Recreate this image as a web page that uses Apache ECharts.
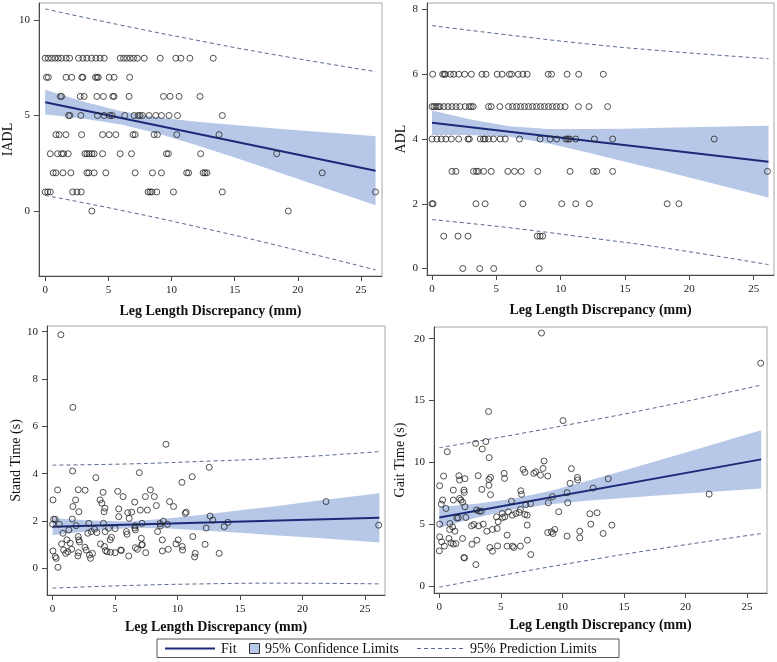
<!DOCTYPE html>
<html>
<head>
<meta charset="utf-8">
<script src="https://cdn.jsdelivr.net/npm/echarts@6/dist/echarts.min.js"></script>
<style>
html,body{margin:0;padding:0;background:#fff;}
#chart{width:777px;height:662px;}
</style>
</head>
<body>
<div id="chart"></div>
<script>
// ---------------- DATA ----------------
const xTitle = 'Leg Length Discrepancy (mm)';
const xTicks = [0, 5, 10, 15, 20, 25];

// IADL: x values grouped by score (index = score 0..8)
const iadlScores = [0, 1, 2, 3, 4, 5, 6, 7, 8];
const iadlXByScore = [
  [3.69, 19.24],
  [0, 0.2, 0.4, 2.17, 2.51, 2.85, 8.15, 8.3, 8.45, 8.83, 10.15, 14.02, 26.14],
  [0.63, 0.85, 1.4, 2.03, 3.3, 3.45, 3.87, 4.8, 7.12, 8.49, 9.2, 11.2, 11.35, 12.5, 12.65, 12.8, 21.93],
  [0.4, 0.98, 1.3, 1.45, 1.82, 3.15, 3.3, 3.48, 3.7, 3.87, 4.54, 5.93, 6.83, 9.6, 9.75, 12.3, 18.32],
  [0.85, 1.1, 1.64, 2.88, 4.54, 5.06, 5.59, 6.95, 7.12, 8.62, 8.88, 10.41, 13.76],
  [1.85, 1.95, 2.82, 4.14, 4.66, 5.1, 5.3, 6.3, 7.04, 7.35, 7.5, 7.7, 8.22, 8.75, 9.2, 9.8, 10.47, 14.02],
  [1.2, 1.3, 2.77, 3.08, 4.09, 4.61, 5.35, 5.45, 6.64, 9.36, 9.88, 10.6, 12.25],
  [0.1, 0.25, 1.65, 2.1, 2.9, 2.98, 3.98, 4.1, 4.2, 5.06, 5.45, 6.68],
  [0, 0.24, 0.5, 0.77, 1.03, 1.29, 1.66, 1.93, 2.64, 2.98, 3.3, 3.67, 4.01, 4.35, 4.67, 5.94, 6.2, 6.46, 6.73, 6.99, 7.3, 7.84, 9.1, 10.34, 10.74, 11.45, 13.3]
];
const iadlTicks = [0, 5, 10];

// ADL: x values grouped by score (index = score 0..6)
const adlScores = [0, 1, 2, 3, 4, 5, 6];
const adlXByScore = [
  [2.39, 3.71, 4.8, 8.33],
  [0.91, 2.02, 2.8, 8.18, 8.4, 8.6],
  [0, 0.08, 3.41, 4.13, 7.06, 10.08, 11.17, 12.23, 18.28, 19.19],
  [1.55, 1.86, 3.23, 3.45, 3.6, 4.01, 4.6, 5.89, 6.41, 6.93, 8.22, 10.73, 12.54, 12.8, 14.04, 26.07],
  [0, 0.38, 0.72, 1.08, 1.5, 2.07, 2.8, 2.9, 3.75, 4.0, 4.12, 4.39, 4.78, 5.3, 5.69, 6.8, 8.4, 9.18, 9.69, 10.4, 10.55, 10.7, 11.17, 12.62, 14.04, 21.93],
  [0, 0.15, 0.31, 0.47, 0.62, 0.93, 1.24, 1.55, 1.86, 2.17, 2.58, 2.89, 3.05, 3.2, 4.39, 4.6, 5.27, 5.94, 6.26, 6.57, 6.88, 7.19, 7.5, 7.81, 8.12, 8.43, 8.74, 9.05, 9.36, 9.67, 9.98, 10.34, 11.38, 12.2, 13.65],
  [0.05, 0.83, 0.95, 1.04, 1.43, 1.69, 2.08, 2.54, 3.06, 3.89, 4.2, 5.06, 5.45, 6.02, 6.18, 6.7, 7.06, 7.4, 9.03, 9.29, 10.5, 11.4, 13.31]
];
const adlTicks = [0, 2, 4, 6, 8];

// Stand time (s): [discrepancy, seconds]
const standPoints = [
  [0.66,9.87],[1.62,6.8],[9.07,5.24],[1.6,4.11],[3.46,3.83],[6.94,4.04],[11.17,3.87],[10.35,3.63],[0.4,3.31],[2.05,3.32],
  [2.6,3.3],[0.03,2.89],[1.84,2.89],[3.8,2.89],[4.04,3.21],[3.94,2.75],[5.21,3.25],[5.64,3.03],[6.57,2.8],[7.42,3.03],
  [7.82,3.31],[8.14,3.03],[8.3,2.65],[9.36,2.82],[9.68,2.61],[1.62,2.61],[2.1,2.39],[4.18,2.54],[4.12,2.39],[5.29,2.51],
  [5.29,2.18],[6.01,2.35],[6.33,2.37],[6.12,2.11],[7.02,2.46],[7.58,2.46],[10.61,2.32],[10.69,2.37],[0.08,2.07],[0.21,2.07],
  [1.57,2.08],[0,1.86],[0.53,1.86],[1.89,1.8],[2.9,1.9],[4.07,1.9],[7.15,1.9],[8.59,1.89],[8.86,1.99],[9.18,1.86],
  [8.62,1.79],[0.82,1.48],[1.3,1.62],[2.05,1.34],[2.82,1.48],[3.09,1.55],[3.35,1.65],[3.54,1.51],[4.2,1.55],[4.47,1.69],
  [5.0,1.68],[5.9,1.55],[5.96,1.44],[6.57,1.7],[6.62,1.62],[6.6,1.79],[8.4,1.55],[4.6,1.2],[4.71,1.31],[7.1,1.27],
  [8.78,1.2],[10.05,1.2],[11.22,1.34],[0.72,1.03],[1.14,1.2],[1.41,1.06],[2.1,1.2],[2.15,1.11],[2.58,0.89],[3.83,1.03],
  [4.15,0.92],[4.23,0.75],[4.36,0.7],[4.63,0.68],[5.0,0.66],[5.45,0.77],[5.5,0.75],[6.09,0.52],[6.62,0.87],[6.78,0.8],
  [7.13,0.99],[7.18,1.0],[7.45,0.66],[8.78,0.73],[9.26,0.8],[9.87,1.03],[10.37,0.92],[10.4,0.77],[11.41,0.63],[11.36,0.48],
  [0.03,0.73],[0.21,0.49],[0.29,0.42],[0.43,0.04],[0.88,0.77],[1.04,0.63],[1.22,0.7],[1.52,0.8],[2.07,0.66],[2.02,0.52],
  [2.69,0.77],[2.95,0.56],[3.03,0.42],[3.19,0.63],[12.53,4.27],[21.88,2.82],[12.6,2.21],[12.82,2.04],[14.02,1.94],[13.73,1.76],
  [12.29,1.7],[26.09,1.82],[12.2,1.01],[13.33,0.63]
];
const standTicks = [0, 2, 4, 6, 8, 10];

// Gait time (s): [discrepancy, seconds]
const gaitPoints = [
  [8.3,20.46],[4.0,14.11],[10.05,13.38],[0.65,10.86],[2.95,11.54],[3.78,11.68],[3.49,11.08],[4.05,10.38],[8.51,10.11],[0.35,8.89],
  [0.03,8.11],[1.59,8.92],[1.65,8.57],[2.08,8.68],[3.16,8.92],[4.03,8.62],[4.16,8.78],[4.03,8.14],[5.27,9.11],[5.3,8.7],
  [6.81,9.43],[6.95,9.19],[7.68,9.11],[7.84,9.24],[8.22,8.97],[8.43,9.51],[8.81,8.89],[10.73,9.49],[10.62,8.3],[11.22,8.78],
  [11.24,8.57],[0.27,6.95],[0.16,6.62],[0.54,6.27],[1.14,7.76],[1.14,6.95],[1.65,7.08],[1.76,6.95],[2.0,7.76],[2.03,7.57],
  [1.89,6.78],[2.08,6.41],[3.46,7.81],[4.16,7.38],[5.86,6.86],[6.62,7.7],[6.68,7.41],[7.03,6.59],[7.41,6.65],[8.86,6.73],
  [9.19,7.22],[10.38,7.54],[10.43,6.73],[9.7,6.0],[0.03,5.0],[0.86,5.05],[1.08,4.78],[1.27,4.43],[0.84,4.57],[1.41,5.51],
  [1.54,5.51],[2.16,5.54],[3.03,6.14],[3.24,6.05],[3.41,6.05],[2.62,4.86],[2.81,4.97],[3.19,4.86],[3.57,5.0],[3.86,4.43],
  [4.32,4.57],[4.7,4.65],[4.65,5.59],[4.78,5.19],[5.14,5.54],[5.11,5.86],[5.32,5.59],[5.62,6.0],[5.92,5.73],[6.22,5.86],
  [6.49,5.95],[6.59,6.19],[6.95,5.78],[7.14,5.73],[7.14,4.92],[5.51,4.11],[4.73,3.24],[4.11,3.11],[4.32,2.81],[5.51,3.22],
  [5.95,3.22],[6.05,3.11],[6.59,3.22],[7.16,3.7],[7.43,2.54],[8.81,4.32],[9.11,4.38],[9.24,4.24],[9.38,4.57],[10.38,4.03],
  [11.41,4.43],[11.41,3.89],[0.03,3.97],[0.19,3.57],[0.41,3.22],[0.0,2.84],[0.78,3.84],[0.95,3.49],[1.14,3.38],[1.35,3.43],
  [1.89,3.84],[2.0,2.3],[2.05,2.27],[2.65,3.38],[3.05,3.7],[2.97,1.73],[26.11,18.02],[13.72,8.67],[12.5,7.92],[21.92,7.43],
  [12.23,5.84],[12.82,5.92],[12.31,5.0],[14.02,4.92],[13.31,4.25]
];
const gaitTicks = [0, 5, 10, 15, 20];

// Regression fit lines (read at the ends of the data range)
const fitX = [0, 26.15];
const iadlFitY = [5.70, 2.11];
const adlFitY = [4.50, 3.30];
const standFitY = [1.76, 2.13];
const gaitFitY = [5.54, 10.24];

// 95% confidence band edges read along the x range
const bandX = [0, 3, 6, 9, 12, 15, 18, 21, 24, 26.15];
const iadlCiUpper = [6.35, 5.74, 5.23, 4.90, 4.68, 4.51, 4.33, 4.18, 4.03, 3.92];
const iadlCiLower = [5.05, 4.84, 4.53, 4.04, 3.44, 2.80, 2.13, 1.46, 0.79, 0.30];
const adlCiUpper = [4.88, 4.60, 4.39, 4.31, 4.31, 4.32, 4.35, 4.37, 4.39, 4.41];
const adlCiLower = [4.12, 4.12, 4.07, 3.87, 3.59, 3.30, 3.01, 2.71, 2.41, 2.19];
const standCiUpper = [2.11, 2.02, 1.98, 2.09, 2.26, 2.45, 2.63, 2.84, 3.03, 3.17];
const standCiLower = [1.41, 1.58, 1.70, 1.69, 1.60, 1.50, 1.39, 1.29, 1.17, 1.09];
const gaitCiUpper = [6.38, 6.65, 7.05, 7.69, 8.49, 9.34, 10.21, 11.08, 11.96, 12.60];
const gaitCiLower = [4.70, 5.51, 6.19, 6.61, 6.89, 7.12, 7.33, 7.54, 7.74, 7.88];

// 95% prediction limits
const piX = [0, 6, 12, 18, 26.15];
const iadlPiUpper = [10.58, 9.73, 8.94, 8.20, 7.30];
const iadlPiLower = [0.82, 0.04, -0.82, -1.74, -3.08];
const adlPiUpper = [7.50, 7.21, 6.94, 6.72, 6.48];
const adlPiLower = [1.51, 1.26, 0.96, 0.64, 0.12];
const standPiUpper = [4.36, 4.41, 4.52, 4.65, 4.93];
const standPiLower = [-0.84, -0.73, -0.66, -0.63, -0.66];
const gaitPiUpper = [11.18, 12.22, 13.33, 14.51, 16.25];
const gaitPiLower = [-0.10, 1.02, 2.06, 3.03, 4.24];

// ---------------- STYLE ----------------
const FONT = "'Liberation Serif', 'DejaVu Serif', serif";
const FIT_COLOR = '#1b2a78';
const BAND_COLOR = '#b6c7e7';
const PI_COLOR = '#56698f';
const PT_COLOR = '#262626';

function pairs(xs, ys) { return xs.map((x, i) => [x, ys[i]]); }
function byScore(scores, xsByScore) {
  const out = [];
  scores.forEach((s, i) => xsByScore[i].forEach(x => out.push([x, s])));
  return out;
}

const panels = [
  { grid: {left: 38, top: 3, width: 344, height: 273}, xr: [-0.5, 26.66], yr: [-3.4, 10.89],
    yName: 'IADL', yGap: 21, xGap: 28, yTicks: iadlTicks, pts: byScore(iadlScores, iadlXByScore),
    fitY: iadlFitY, ciU: iadlCiUpper, ciL: iadlCiLower, piU: iadlPiUpper, piL: iadlPiLower },
  { grid: {left: 427, top: 3, width: 347, height: 272}, xr: [-0.39, 26.58], yr: [-0.2, 8.2],
    yName: 'ADL', yGap: 19, xGap: 28, yTicks: adlTicks, pts: byScore(adlScores, adlXByScore),
    fitY: adlFitY, ciU: adlCiUpper, ciL: adlCiLower, piU: adlPiUpper, piL: adlPiLower },
  { grid: {left: 47, top: 326, width: 338, height: 269}, xr: [-0.45, 26.6], yr: [-1.13, 10.24],
    yName: 'Stand Time (s)', yGap: 22, xGap: 25, yTicks: standTicks, pts: standPoints,
    fitY: standFitY, ciU: standCiUpper, ciL: standCiLower, piU: standPiUpper, piL: standPiLower },
  { grid: {left: 434, top: 327, width: 333, height: 266}, xr: [-0.43, 26.62], yr: [-0.57, 20.95],
    yName: 'Gait Time (s)', yGap: 27, xGap: 25, yTicks: gaitTicks, pts: gaitPoints,
    fitY: gaitFitY, ciU: gaitCiUpper, ciL: gaitCiLower, piU: gaitPiUpper, piL: gaitPiLower }
];

const grids = [], xAxes = [], yAxes = [], series = [];
panels.forEach((p, i) => {
  grids.push(Object.assign({ show: true, borderColor: '#a6a6a6', borderWidth: 1, backgroundColor: 'transparent' }, p.grid));
  xAxes.push({
    gridIndex: i, type: 'value', min: p.xr[0], max: p.xr[1],
    name: xTitle, nameLocation: 'middle', nameGap: p.xGap,
    nameTextStyle: { fontFamily: FONT, fontSize: 14, fontWeight: 'bold', color: '#111' },
    axisLine: { show: true, onZero: false, lineStyle: { color: '#4a4a4a', width: 1 } },
    axisTick: { show: true, length: 5, customValues: xTicks, lineStyle: { color: '#4a4a4a' } },
    axisLabel: { customValues: xTicks, margin: 9, fontFamily: FONT, fontSize: 11, color: '#222' },
    splitLine: { show: false }
  });
  yAxes.push({
    gridIndex: i, type: 'value', min: p.yr[0], max: p.yr[1],
    name: p.yName, nameLocation: 'middle', nameGap: p.yGap, nameRotate: 90,
    nameTextStyle: { fontFamily: FONT, fontSize: 14, color: '#111' },
    axisLine: { show: true, onZero: false, lineStyle: { color: '#4a4a4a', width: 1 } },
    axisTick: { show: true, length: 5, customValues: p.yTicks, lineStyle: { color: '#4a4a4a' } },
    axisLabel: { customValues: p.yTicks, margin: 9, fontFamily: FONT, fontSize: 11, color: '#222' },
    splitLine: { show: false }
  });
  // confidence band
  const ciU = p.ciU, ciL = p.ciL;
  series.push({
    type: 'custom', xAxisIndex: i, yAxisIndex: i, coordinateSystem: 'cartesian2d',
    silent: true, z: 1, clip: true,
    data: bandX.map((x, k) => [x, ciL[k], ciU[k]]),
    encode: { x: 0, y: [1, 2] },
    renderItem: function (params, api) {
      if (params.dataIndex !== 0) return null;
      const pts = [];
      for (let k = 0; k < bandX.length; k++) pts.push(api.coord([bandX[k], ciU[k]]));
      for (let k = bandX.length - 1; k >= 0; k--) pts.push(api.coord([bandX[k], ciL[k]]));
      return { type: 'polygon', shape: { points: pts }, style: { fill: BAND_COLOR, stroke: null } };
    }
  });
  // prediction limits
  [p.piU, p.piL].forEach(arr => {
    series.push({
      type: 'line', xAxisIndex: i, yAxisIndex: i, data: pairs(piX, arr), smooth: true,
      showSymbol: false, silent: true, z: 2,
      lineStyle: { color: PI_COLOR, width: 1, type: [4, 3] }
    });
  });
  // fit
  series.push({
    type: 'line', xAxisIndex: i, yAxisIndex: i, data: pairs(fitX, p.fitY),
    showSymbol: false, silent: true, z: 3,
    lineStyle: { color: FIT_COLOR, width: 2 }
  });
  // observations
  series.push({
    type: 'scatter', xAxisIndex: i, yAxisIndex: i, data: p.pts, z: 4,
    symbol: 'circle', symbolSize: 6,
    itemStyle: { color: 'rgba(255,255,255,0)', borderColor: PT_COLOR, borderWidth: 1 }
  });
});

const legendY = 648.5;
const graphic = [
  { type: 'rect', shape: { x: 157, y: 639, width: 462, height: 18.5 }, style: { fill: '#fff', stroke: '#555', lineWidth: 1 } },
  { type: 'line', shape: { x1: 165, y1: legendY, x2: 215, y2: legendY }, style: { stroke: FIT_COLOR, lineWidth: 2 } },
  { type: 'text', x: 221, y: legendY + 0.5, style: { text: 'Fit', font: '14px ' + FONT, fill: '#111', verticalAlign: 'middle' } },
  { type: 'rect', shape: { x: 249.5, y: 643.5, width: 10, height: 10 }, style: { fill: BAND_COLOR, stroke: '#333', lineWidth: 1 } },
  { type: 'text', x: 265, y: legendY + 0.5, style: { text: '95% Confidence Limits', font: '14px ' + FONT, fill: '#111', verticalAlign: 'middle' } },
  { type: 'line', shape: { x1: 417, y1: legendY, x2: 465, y2: legendY }, style: { stroke: PI_COLOR, lineWidth: 1, lineDash: [4, 3] } },
  { type: 'text', x: 470, y: legendY + 0.5, style: { text: '95% Prediction Limits', font: '14px ' + FONT, fill: '#111', verticalAlign: 'middle' } }
];

const chart = echarts.init(document.getElementById('chart'), null, { renderer: 'canvas' });
chart.setOption({
  animation: false,
  backgroundColor: '#ffffff',
  grid: grids, xAxis: xAxes, yAxis: yAxes, series: series,
  graphic: graphic
});
</script>
</body>
</html>
